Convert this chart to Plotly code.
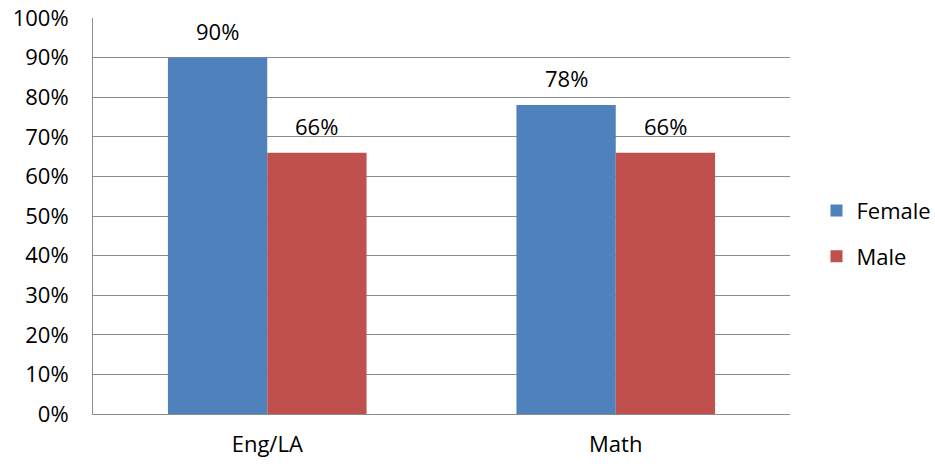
import plotly.graph_objects as go

categories = ["Eng/LA", "Math"]
female = [90, 78]
male = [66, 66]
y_ticks = list(range(0, 101, 10))
y_tick_labels = [f"{v}%" for v in y_ticks]

FONT = "Open Sans, sans-serif"
BLUE = "#4F81BD"
RED = "#C0504D"
GRID = "#8C8C8C"
FS = 22

fig = go.Figure()
fig.add_trace(go.Bar(name="Female", x=categories, y=female, marker_color=BLUE,
                     marker_line_width=0, legendgroup="f"))
fig.add_trace(go.Bar(name="Male", x=categories, y=male, marker_color=RED,
                     marker_line_width=0, legendgroup="m"))

# value labels above each bar
bar_half = 49.5
for vals, shift in ((female, -bar_half), (male, bar_half)):
    for cat, v in zip(categories, vals):
        fig.add_annotation(x=cat, y=v, xref="x", yref="y", text=f"{v}%",
                           showarrow=False, xshift=shift, yshift=10,
                           yanchor="bottom",
                           font=dict(family=FONT, size=FS, color="#000"))

fig.update_layout(
    width=935, height=469,
    margin=dict(l=93, r=145, t=18, b=55, autoexpand=False),
    paper_bgcolor="white", plot_bgcolor="white",
    barmode="group", bargap=0.43, bargroupgap=0,
    font=dict(family=FONT, size=FS, color="#000"),
    showlegend=True,
    legend=dict(x=1.038, y=0.455, xanchor="left", yanchor="middle",
                traceorder="grouped", tracegroupgap=14,
                font=dict(family=FONT, size=FS), bgcolor="rgba(0,0,0,0)"),
    xaxis=dict(showline=True, linecolor=GRID, linewidth=1, ticks="",
               ticklabelstandoff=11, showgrid=False, automargin=False),
    yaxis=dict(range=[0, 100], tickvals=y_ticks, ticktext=y_tick_labels,
               showgrid=True, gridcolor=GRID, gridwidth=1,
               showline=True, linecolor=GRID, linewidth=1,
               zeroline=False, ticks="", ticklabelstandoff=19,
               automargin=False),
)

fig.write_html("out.html")
